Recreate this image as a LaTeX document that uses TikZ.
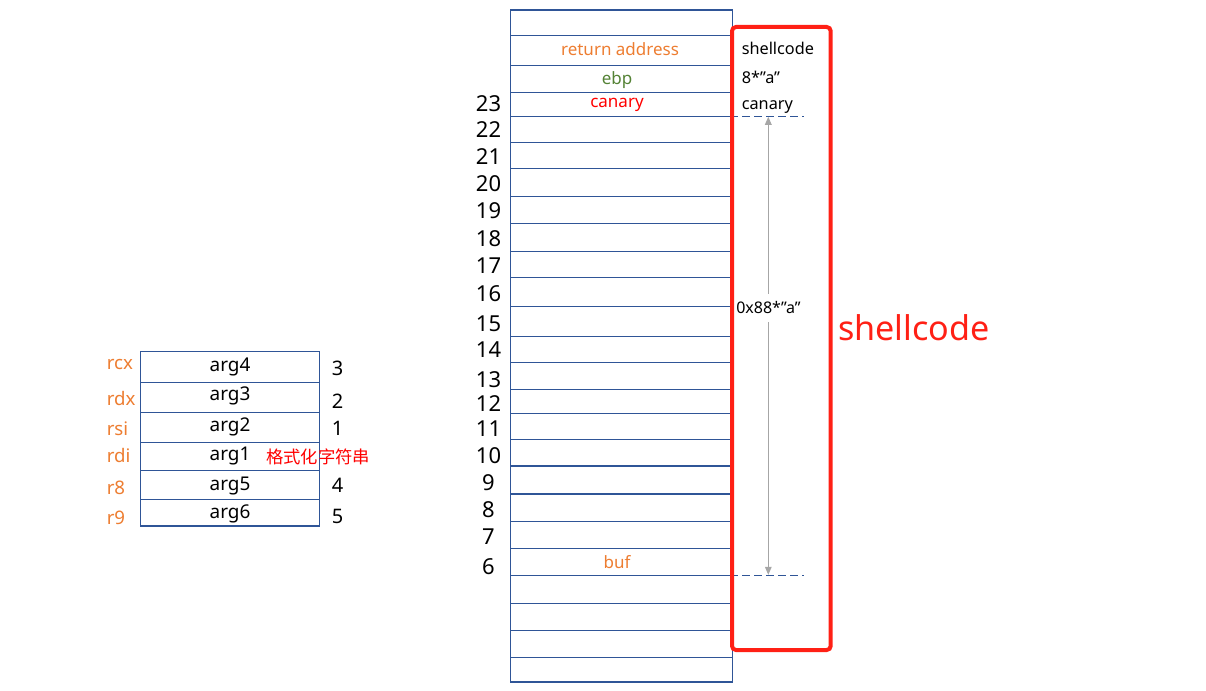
\documentclass[tikz,border=0pt]{standalone}
\usepackage{fontspec}
\setmainfont{Noto Sans}
\newfontfamily\cjk{Noto Sans CJK SC}
\usetikzlibrary{arrows.meta}
\definecolor{gridblue}{HTML}{2F5597}
\definecolor{offorange}{HTML}{ED7D31}
\definecolor{offgreen}{HTML}{548235}
\definecolor{boxred}{HTML}{FF2015}
\definecolor{arrgray}{HTML}{A6A6A6}
\newcommand{\fsz}[1]{\fontsize{#1}{#1}\selectfont}
\tikzset{
  cell/.style={draw=gridblue, line width=0.8pt},
  slbl/.style={inner sep=0pt, anchor=base, font=\fsz{12.75}},
  rlbl/.style={inner sep=0pt, anchor=base west, font=\fsz{12.2}},
  bignum/.style={inner sep=0pt, anchor=center, font=\fsz{16.5}},
  smallnum/.style={inner sep=0pt, anchor=center, font=\fsz{15}},
  reglbl/.style={inner sep=0pt, anchor=base west, text=offorange, font=\fsz{14}},
  arglbl/.style={inner sep=0pt, anchor=base, font=\fsz{14.2}},
  dashline/.style={draw=gridblue, line width=0.8pt, dash pattern=on 6pt off 3pt},
  measure/.style={draw=arrgray, line width=0.75pt, {Triangle[width=5pt,length=6pt]}-{Triangle[width=5pt,length=6pt]}},
  redbox/.style={draw=boxred, line width=3pt, rounded corners=3pt}
}
\begin{document}
\begin{tikzpicture}[x=0.75pt,y=-0.75pt]
\useasboundingbox (0,0) rectangle (1206,691);

% big stack
\draw[cell] (510.5,10) rectangle (732.7,682);
\foreach \y in {35.3,65.3,92.3,116.3,142.3,168.3,196.3,223.3,251.3,277.3,306.3,336.3,362.3,389.3,413.3,439.3,466,494,521.3,548.3,575.3,603.3,630.3,657.3}
  \draw[cell] (510.5,\y) -- (732.7,\y);

\node[slbl, text=offorange] (ret) at (620,56) {return address};
\node[slbl, text=offgreen] (ebp) at (617,84.3) {ebp};
\node[slbl, text=red] (can) at (617,108) {canary};
\node[slbl, text=offorange] (buf) at (617,568) {buf};

% slot numbers
\foreach \n/\y in {23/103.3,22/129.5,21/156.7,20/183.3,19/210.5,18/238.3,17/265.3,16/293.7,15/323.8,14/349.5,13/379.2,12/403.8,11/428.7,10/455.5,9/482.8,8/509.8,7/536.5,6/566.2}
  \node[bignum] (n\n) at (488.5,\y) {\n};

% payload column
\node[rlbl] (psc) at (741.5,54.3) {shellcode};
\node[rlbl] (pa) at (741.5,83.3) {8*"a"};
\node[rlbl] (pcan) at (741.5,110) {canary};

\coordinate (dlt) at (730,116.3);
\coordinate (drt) at (804,116.3);
\coordinate (dlb) at (730,575.3);
\coordinate (drb) at (804,575.3);
\draw[dashline] (dlt) -- (drt);
\draw[dashline] (dlb) -- (drb);

\coordinate (atop) at (768.3,116.8);
\coordinate (abot) at (768.3,574.8);
\draw[measure] (atop) -- (abot);
\node[fill=white, inner xsep=1pt, inner ysep=6pt, font=\fsz{12}] (pad) at (768.5,308) {0x88*"a"};

\draw[redbox] (732,27) rectangle (830.7,650);
\node[inner sep=0pt, anchor=base west, text=boxred, font=\fsz{25.6}] (bigsc) at (838,341) {shellcode};

% register table
\draw[cell] (140.3,351.7) rectangle (319.3,526);
\foreach \y in {382.3,412.3,442.3,470.3,499.3}
  \draw[cell] (140.3,\y) -- (319.3,\y);

\node[arglbl] (a4) at (230,371.7) {arg4};
\node[arglbl] (a3) at (230,400.7) {arg3};
\node[arglbl] (a2) at (230,431.7) {arg2};
\node[arglbl] (a1) at (230,460.7) {arg1};
\node[arglbl] (a5) at (230,490) {arg5};
\node[arglbl] (a6) at (230,518.3) {arg6};

\node[reglbl] (rcx) at (106.5,370) {rcx};
\node[reglbl] (rdx) at (106.5,405.7) {rdx};
\node[reglbl] (rsi) at (106.5,435) {rsi};
\node[reglbl] (rdi) at (106.5,462.3) {rdi};
\node[reglbl] (r8) at (106.5,494) {r8};
\node[reglbl] (r9) at (106.5,524.8) {r9};

\node[smallnum] (k3) at (337.5,368.8) {3};
\node[smallnum] (k2) at (337.5,400.8) {2};
\node[smallnum] (k1) at (337.5,428.8) {1};
\node[smallnum] (k4) at (337.5,485.8) {4};
\node[smallnum] (k5) at (337.5,516.2) {5};

\node[inner sep=0pt, text=red, font=\cjk\fsz{13}] (fmt) at (318,456.7) {格式化字符串};
\end{tikzpicture}
\end{document}
